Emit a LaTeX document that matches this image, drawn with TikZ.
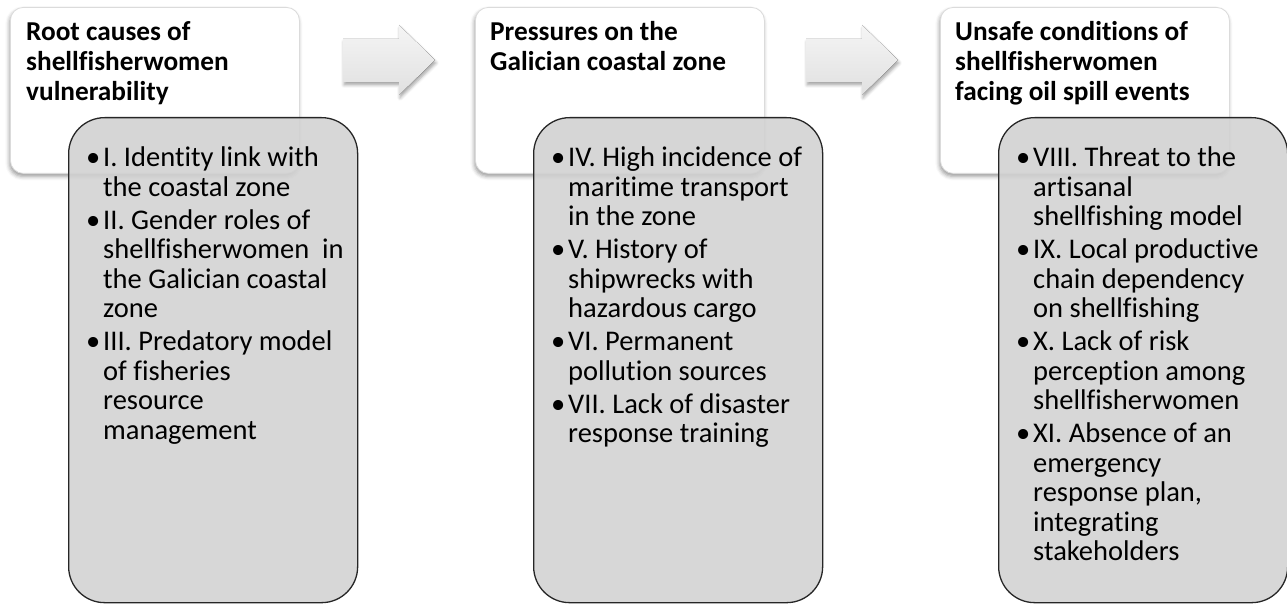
\documentclass[tikz,border=0pt]{standalone}
\usepackage{fontspec}
\setmainfont{Carlito}[Ligatures=NoCommon]
\usetikzlibrary{shadows.blur}

\tikzset{
  headbox/.style={draw=black!14, line width=0.8pt, fill=white, rounded corners=13pt,
    minimum width=289pt, minimum height=166pt, anchor=north west, inner sep=0pt,
    blur shadow={shadow xshift=-1pt, shadow yshift=-3pt, shadow blur radius=4pt, shadow opacity=40}},
  listbox/.style={draw=black!85, line width=1.3pt, fill=black!18, fill opacity=0.88,
    rounded corners=36pt, minimum width=289pt, minimum height=485pt,
    anchor=north west, inner sep=0pt},
  flowarrow/.style={top color=black!4, bottom color=black!12,
    blur shadow={shadow xshift=1pt, shadow yshift=-3pt, shadow blur radius=3pt, shadow opacity=35}},
  headtext/.style={anchor=north west, inner sep=0pt, align=left,
    font=\fontsize{27.3}{30}\selectfont\bfseries},
  listtext/.style={anchor=north west, inner sep=0pt, align=left,
    font=\fontsize{28.5}{29.5}\selectfont},
}
\newcommand{\bul}{\llap{\textbullet\hspace{3pt}}}

\begin{document}
\begin{tikzpicture}[x=1pt,y=-1pt]
  \useasboundingbox (0,0) rectangle (1287,604);

  % header cards
  \node[headbox] (h1) at (10,7) {};
  \node[headbox] (h2) at (475,7) {};
  \node[headbox] (h3) at (940,7) {};

  \node[headtext] (h1t) at ([xshift=16pt,yshift=-14pt]h1.north west)
    {Root causes of\\shellfisherwomen\\vulnerability};
  \node[headtext] (h2t) at ([xshift=15pt,yshift=-14pt]h2.north west)
    {Pressures on the\\Galician coastal zone};
  \node[headtext] (h3t) at ([xshift=15pt,yshift=-14pt]h3.north west)
    {Unsafe conditions of\\shellfisherwomen\\facing oil spill events};

  % arrows between stages
  \fill[flowarrow] (343,39) -- (399,39) -- (399,25) -- (435,60) -- (399,95) -- (399,82) -- (343,82) -- cycle;
  \fill[flowarrow] (806,39) -- (862,39) -- (862,25) -- (898,60) -- (862,95) -- (862,82) -- (806,82) -- cycle;

  % bullet lists
  \node[listbox] (l1) at (68,117) {};
  \node[listbox] (l2) at (533,117) {};
  \node[listbox] (l3) at (998,117) {};

  \node[listtext] (l1t) at ([xshift=35pt,yshift=-30pt]l1.north west)
    {\bul I. Identity link with\\
     the coastal zone\\[3.5pt]
     \bul II. Gender roles of\\
     shellfisherwomen\ \ in\\
     the Galician coastal\\
     zone\\[3.5pt]
     \bul III. Predatory model\\
     of fisheries\\
     resource\\
     management};
  \node[listtext] (l2t) at ([xshift=35pt,yshift=-30pt]l2.north west)
    {\bul IV. High incidence of\\
     maritime transport\\
     in the zone\\[3.5pt]
     \bul V. History of\\
     shipwrecks with\\
     hazardous cargo\\[3.5pt]
     \bul VI. Permanent\\
     pollution sources\\[3.5pt]
     \bul VII. Lack of disaster\\
     response training};
  \node[listtext] (l3t) at ([xshift=35pt,yshift=-30pt]l3.north west)
    {\bul VIII. Threat to the\\
     artisanal\\
     shellfishing model\\[3.5pt]
     \bul IX. Local productive\\
     chain dependency\\
     on shellfishing\\[3.5pt]
     \bul X. Lack of risk\\
     perception among\\
     shellfisherwomen\\[3.5pt]
     \bul XI. Absence of an\\
     emergency\\
     response plan,\\
     integrating\\
     stakeholders};
\end{tikzpicture}
\end{document}
